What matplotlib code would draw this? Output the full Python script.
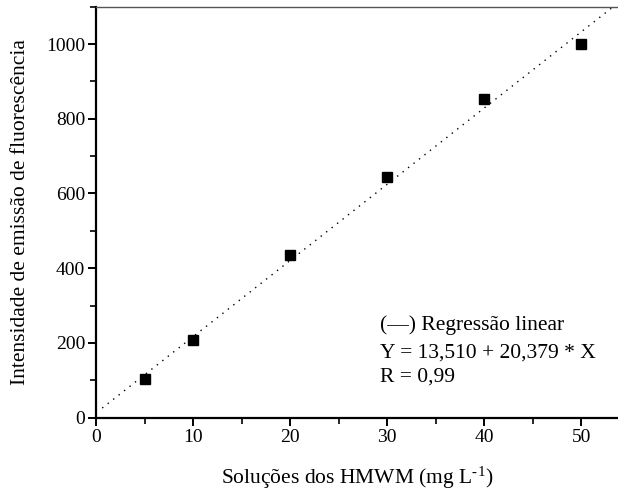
import matplotlib
matplotlib.use("Agg")
import matplotlib.pyplot as plt
import numpy as np
from matplotlib.ticker import MultipleLocator

plt.rcParams['font.family'] = ['Liberation Serif', 'DejaVu Serif']
plt.rcParams['mathtext.fontset'] = 'custom'
plt.rcParams['mathtext.rm'] = 'Liberation Serif'
plt.rcParams['mathtext.it'] = 'Liberation Serif:italic'

# Data
concentrations = [5, 10, 20, 30, 40, 50]
intensities = [103, 208, 435, 645, 853, 1000]
intercept = 13.510
slope = 20.379
fit_x = [0.6, 56]

xlabel = r"Soluções dos HMWM (mg L$^{\text{-1}}$)"
ylabel = "Intensidade de emissão de fluorescência"
legend_lines = ["(—) Regressão linear", "Y = 13,510 + 20,379 * X", "R = 0,99"]

fig = plt.figure(figsize=(6.18, 4.99), dpi=100)
ax = fig.add_axes([0.156, 0.163, 0.844, 0.8236])

fx = np.array(fit_x)
ax.plot(fx, intercept + slope * fx, color='black', lw=1.0, linestyle=(0, (1, 4)))
ax.plot(concentrations, intensities, 's', color='black', markersize=6.5, zorder=3)

ax.set_xlim(0, 53.8)
ax.set_ylim(0, 1100)
ax.xaxis.set_major_locator(MultipleLocator(10))
ax.xaxis.set_minor_locator(MultipleLocator(5))
ax.yaxis.set_major_locator(MultipleLocator(200))
ax.yaxis.set_minor_locator(MultipleLocator(100))

ax.spines['right'].set_visible(False)
ax.spines['left'].set_linewidth(1.6)
ax.spines['bottom'].set_linewidth(1.6)
ax.spines['top'].set_linewidth(1.0)
ax.spines['top'].set_color('#555555')

ax.tick_params(which='major', direction='out', length=6, width=1.4, labelsize=14, pad=2)
ax.tick_params(which='minor', direction='out', length=4, width=1.2)
ax.tick_params(top=False, right=False, which='both')

ax.set_xlabel(xlabel, fontsize=15.5, labelpad=14)
ax.set_ylabel(ylabel, fontsize=15.5, labelpad=12)

ys = [248, 174, 108]
for t, yv in zip(legend_lines, ys):
    ax.text(29.2, yv, t, fontsize=15.5, va='center', ha='left')

fig.savefig("out.png", dpi=100)
